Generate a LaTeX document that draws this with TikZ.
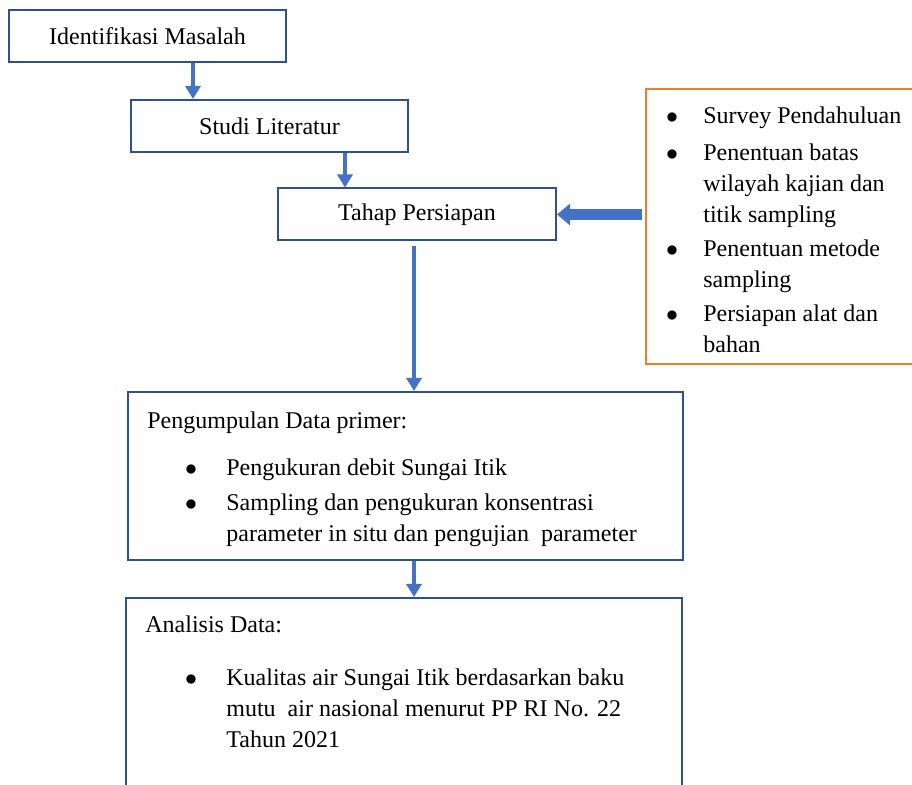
\documentclass[tikz,border=0pt]{standalone}
\usepackage{fontspec}
\setmainfont{Liberation Serif}
\usetikzlibrary{arrows.meta,positioning,calc}
\definecolor{boxBlue}{RGB}{47,82,143}
\definecolor{arrowBlue}{RGB}{68,114,196}
\definecolor{sideOrange}{RGB}{237,125,49}
\tikzset{
  stagebox/.style={rectangle, draw=boxBlue, line width=1pt, minimum width=138.5pt, minimum height=26pt},
  sidebox/.style={rectangle, draw=sideOrange, line width=1pt, minimum width=135pt, minimum height=137.5pt},
  plaintext/.style={anchor=base west, inner sep=0pt, align=left},
  bulletdot/.style={anchor=base, inner sep=0pt},
  flowarrow/.style={draw=arrowBlue, line width=2.2pt, -{Triangle[width=7.5pt,length=6.5pt]}},
  sidearrow/.style={draw=arrowBlue, line width=5.5pt, -{Triangle[width=10.5pt,length=6.5pt]}}
}

\begin{document}
\begin{tikzpicture}[x=0.5pt, y=-0.5pt, font=\fontsize{12pt}{15.5pt}\selectfont]
  \clip (0,0) rectangle (912,785);

  % Kotak alur utama
  \node[stagebox] (identifikasi) at (147.5,36) {Identifikasi Masalah};
  \node[stagebox] (studi) at (269.5,126) {Studi Literatur};
  \node[stagebox, minimum width=139pt] (persiapan) at (417,214.5) {Tahap Persiapan};
  \node[stagebox, minimum width=277.5pt, minimum height=84pt] (pengumpulan) at (405.5,476) {};
  \node[stagebox, minimum width=278pt, minimum height=101pt] (analisis) at (404,699) {};

  % Kegiatan persiapan di kanan (anchor di baris terakhir)
  \node[sidebox] (kegiatan) at (781,226.5) {};
  \node[bulletdot] (bk1) at (672,124) {$\bullet$};
  \node[plaintext] (k1) at (703,124) {Survey Pendahuluan};
  \node[bulletdot] (bk2) at (672,161) {$\bullet$};
  \node[plaintext] (k2) at (703,223) {Penentuan batas\\wilayah kajian dan\\titik sampling};
  \node[bulletdot] (bk3) at (672,257) {$\bullet$};
  \node[plaintext] (k3) at (703,288) {Penentuan metode\\sampling};
  \node[bulletdot] (bk4) at (672,322) {$\bullet$};
  \node[plaintext] (k4) at (703,353) {Persiapan alat dan\\bahan};

  % Isi pengumpulan data
  \node[plaintext] (judulData) at (147,429) {Pengumpulan Data primer:};
  \node[bulletdot] (bd1) at (191,476) {$\bullet$};
  \node[plaintext] (d1) at (226,476) {Pengukuran debit Sungai Itik};
  \node[bulletdot] (bd2) at (191,511) {$\bullet$};
  \node[plaintext] (d2) at (226,542) {Sampling dan pengukuran konsentrasi\\parameter in situ dan pengujian\ \ parameter};

  % Isi analisis data
  \node[plaintext] (judulAnalisis) at (145,633) {Analisis Data:};
  \node[bulletdot] (ba1) at (191,686) {$\bullet$};
  \node[plaintext] (a1) at (226,748) {Kualitas air Sungai Itik berdasarkan baku\\mutu\ \ air nasional menurut PP RI No. 22\\Tahun 2021};

  % Panah
  \coordinate (x1) at (193,0);
  \coordinate (x2) at (345,0);
  \coordinate (x3) at (414,0);
  \draw[flowarrow] (identifikasi.south -| x1) -- (studi.north -| x1);
  \draw[flowarrow] (studi.south -| x2) -- (persiapan.north -| x2);
  \draw[flowarrow, shorten <=2.5pt] (persiapan.south -| x3) -- (pengumpulan.north -| x3);
  \draw[flowarrow] (pengumpulan.south -| x3) -- (analisis.north -| x3);
  \draw[sidearrow, shorten <=1.5pt] (persiapan.east -| kegiatan.west) -- (persiapan.east);
\end{tikzpicture}
\end{document}
